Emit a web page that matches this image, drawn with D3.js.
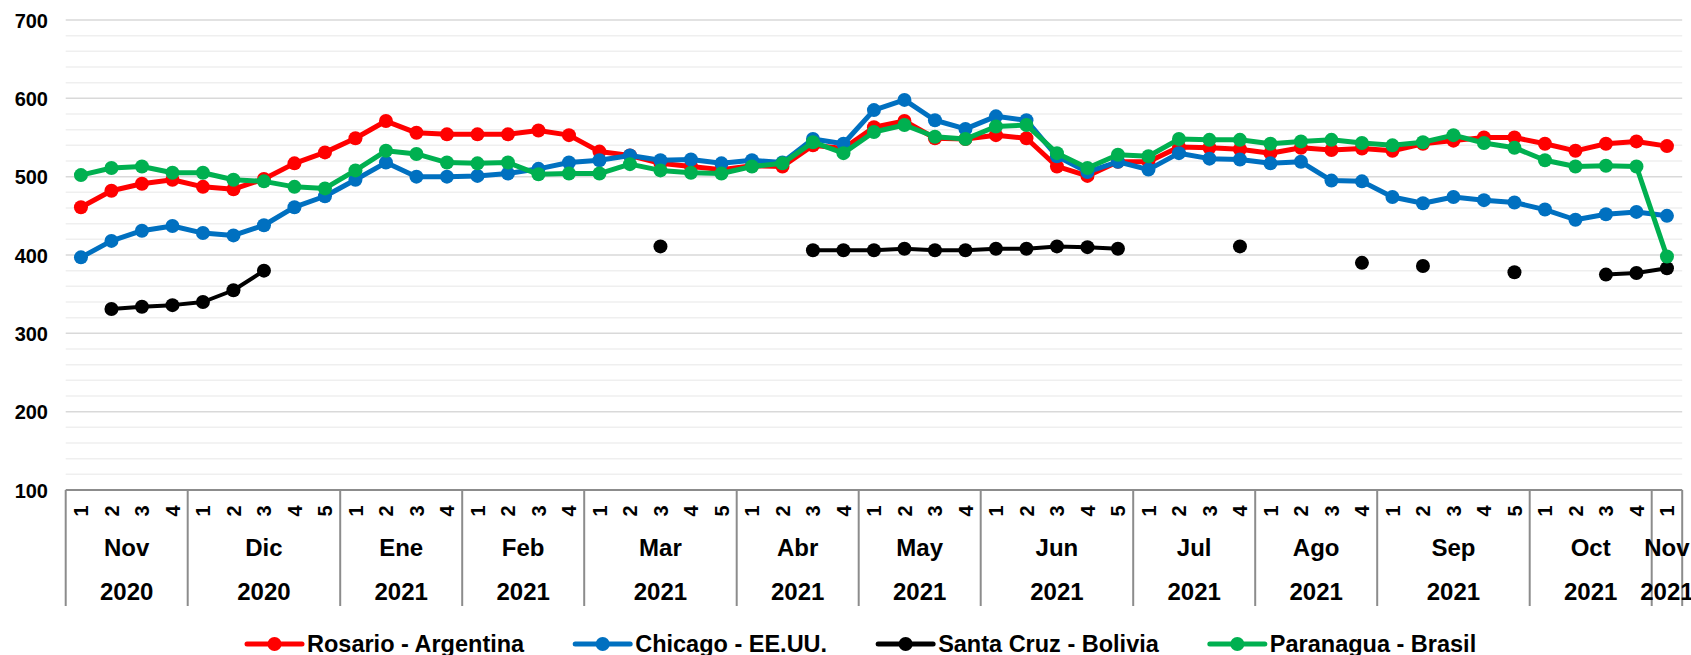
<!DOCTYPE html>
<html>
<head>
<meta charset="utf-8">
<script src="https://cdn.jsdelivr.net/npm/d3@7"></script>
<style>
  body { margin: 0; background: #fff; }
  svg text { font-family: "Liberation Sans", Arial, sans-serif; font-weight: bold; fill: #000; }
</style>
</head>
<body>
<div id="chart"></div>
<script>
// 月份、年份與每月週數
var months = ["Nov", "Dic", "Ene", "Feb", "Mar", "Abr", "May", "Jun", "Jul", "Ago", "Sep", "Oct", "Nov"];
var years = ["2020", "2020", "2021", "2021", "2021", "2021", "2021", "2021", "2021", "2021", "2021", "2021", "2021"];
var weeksPerMonth = [4, 5, 4, 4, 5, 4, 4, 5, 4, 4, 5, 4, 1];

// 各市場價格
var rosario = [461, 482, 491, 496, 487, 484, 497, 517, 531, 549, 571, 556, 554, 554, 554, 559, 553, 532, 527, 517,
  513, 509, 514, 513, 540, 536, 563, 571, 549, 548, 553, 549, 513, 501, 519, 519, 538, 537, 535, 530,
  537, 534, 536, 533, 542, 546, 550, 550, 542, 533, 542, 545, 539];
var chicago = [397, 418, 431, 437, 428, 425, 438, 461, 475, 496, 518, 500, 500, 501, 504, 510, 518, 521, 527, 521,
  522, 517, 521, 518, 548, 542, 585, 598, 572, 561, 577, 572, 526, 506, 519, 509, 530, 523, 522, 517,
  519, 495, 494, 474, 466, 474, 470, 467, 458, 445, 452, 455, 450];
var santaCruz = [null, 331, 334, 336, 340, 355, 380, null, null, null, null, null, null, null, null, null, null, null, null, 411,
  null, null, null, null, 406, 406, 406, 408, 406, 406, 408, 408, 411, 410, 408, null, null, null, 411, null,
  null, null, 390, null, 386, null, null, 378, null, null, 375, 377, 383];
var paranagua = [502, 511, 513, 505, 505, 496, 494, 487, 485, 508, 533, 529, 518, 517, 518, 503, 504, 504, 516, 508,
  505, 504, 513, 517, 544, 530, 557, 566, 551, 548, 564, 566, 530, 511, 528, 526, 548, 547, 547, 542,
  545, 547, 543, 540, 544, 553, 543, 537, 521, 513, 514, 513, 398];

var seriesNames = ["Rosario - Argentina", "Chicago - EE.UU.", "Santa Cruz - Bolivia", "Paranagua - Brasil"];
var seriesColors = ["#ff0000", "#0070c0", "#000000", "#00b050"];
var seriesValues = [rosario, chicago, santaCruz, paranagua];

// 建立週標籤
var weekLabels = [];
var monthStart = [];
weeksPerMonth.forEach(function (n) {
  monthStart.push(weekLabels.length);
  for (var w = 1; w <= n; w++) weekLabels.push(w);
});
var idx = d3.range(weekLabels.length);

var width = 1691, height = 655;
var svg = d3.select("#chart").append("svg")
  .attr("width", width)
  .attr("height", height);

var x = d3.scaleBand().domain(idx).range([65.7, 1682.2]).padding(0);
var y = d3.scaleLinear().domain([100, 700]).range([490, 20]);

// 次要格線 (每 20)
svg.append("g").selectAll("line")
  .data(d3.range(120, 701, 20).filter(v => v % 100 !== 0))
  .enter().append("line")
  .attr("x1", x.range()[0]).attr("x2", x.range()[1])
  .attr("y1", d => y(d)).attr("y2", d => y(d))
  .style("stroke", "#efefef")
  .style("stroke-width", 1.5);

// 主要格線 (每 100)
svg.append("g").selectAll("line")
  .data(d3.range(200, 701, 100))
  .enter().append("line")
  .attr("x1", x.range()[0]).attr("x2", x.range()[1])
  .attr("y1", d => y(d)).attr("y2", d => y(d))
  .style("stroke", "#d9d9d9")
  .style("stroke-width", 1.5);

// Y 軸
var yAxis = svg.append("g")
  .attr("transform", "translate(48,0)")
  .call(d3.axisLeft(y).tickValues(d3.range(100, 701, 100)).tickSize(0).tickPadding(0));
yAxis.select(".domain").remove();
yAxis.selectAll("text")
  .style("font-size", "20px")
  .style("font-family", "'Liberation Sans', Arial, sans-serif")
  .style("font-weight", "bold")
  .attr("dy", "0.36em");

// X 軸線
svg.append("line")
  .attr("x1", x.range()[0]).attr("x2", x.range()[1])
  .attr("y1", y(100)).attr("y2", y(100))
  .style("stroke", "#8c8c8c")
  .style("stroke-width", 2);

// 月份分隔線
var bounds = monthStart.concat([idx.length]);
svg.append("g").selectAll("line")
  .data(bounds)
  .enter().append("line")
  .attr("x1", d => d < idx.length ? x(d) : x.range()[1])
  .attr("x2", d => d < idx.length ? x(d) : x.range()[1])
  .attr("y1", y(100)).attr("y2", 606)
  .style("stroke", "#8c8c8c")
  .style("stroke-width", 2);

// 週標籤 (旋轉)
svg.append("g").selectAll("text")
  .data(idx)
  .enter().append("text")
  .attr("transform", d => "translate(" + (x(d) + x.bandwidth() / 2) + ",511) rotate(-90)")
  .attr("text-anchor", "middle")
  .attr("dy", "0.36em")
  .style("font-size", "20px")
  .text(d => weekLabels[d]);

// 月份與年份標籤
var monthCenter = monthStart.map(function (s, i) {
  return x(s) + weeksPerMonth[i] * x.bandwidth() / 2;
});
svg.append("g").selectAll("text")
  .data(months)
  .enter().append("text")
  .attr("x", (d, i) => monthCenter[i])
  .attr("y", 547)
  .attr("dy", "0.36em")
  .attr("text-anchor", "middle")
  .style("font-size", "24px")
  .text(d => d);
svg.append("g").selectAll("text")
  .data(years)
  .enter().append("text")
  .attr("x", (d, i) => monthCenter[i])
  .attr("y", 591)
  .attr("dy", "0.36em")
  .attr("text-anchor", "middle")
  .style("font-size", "24px")
  .text(d => d);

// 繪製折線與節點
var line = d3.line()
  .defined(d => d != null)
  .x((d, i) => x(i) + x.bandwidth() / 2)
  .y(d => y(d));

seriesValues.forEach(function (values, s) {
  var g = svg.append("g");
  g.append("path")
    .datum(values)
    .attr("d", line)
    .style("fill", "none")
    .style("stroke", seriesColors[s])
    .style("stroke-width", s === 2 ? 4 : 5)
    .style("stroke-linejoin", "round");
  g.selectAll("circle")
    .data(values.map((v, i) => ({ v: v, i: i })).filter(d => d.v != null))
    .enter().append("circle")
    .attr("cx", d => x(d.i) + x.bandwidth() / 2)
    .attr("cy", d => y(d.v))
    .attr("r", 7)
    .style("fill", seriesColors[s]);
});

// 圖例
var legend = svg.append("g");
var lx = 247, ly = 644;
seriesNames.forEach(function (name, s) {
  var item = legend.append("g").attr("transform", "translate(" + lx + "," + ly + ")");
  item.append("line")
    .attr("x1", 0).attr("x2", 55)
    .attr("y1", 0).attr("y2", 0)
    .style("stroke", seriesColors[s])
    .style("stroke-width", 5)
    .style("stroke-linecap", "round");
  item.append("circle")
    .attr("cx", 27.5).attr("cy", 0).attr("r", 7)
    .style("fill", seriesColors[s]);
  var t = item.append("text")
    .attr("x", 60)
    .attr("dy", "0.36em")
    .style("font-size", "23.5px")
    .text(name);
  lx += 60 + t.node().getComputedTextLength() + 51;
});
</script>
</body>
</html>
